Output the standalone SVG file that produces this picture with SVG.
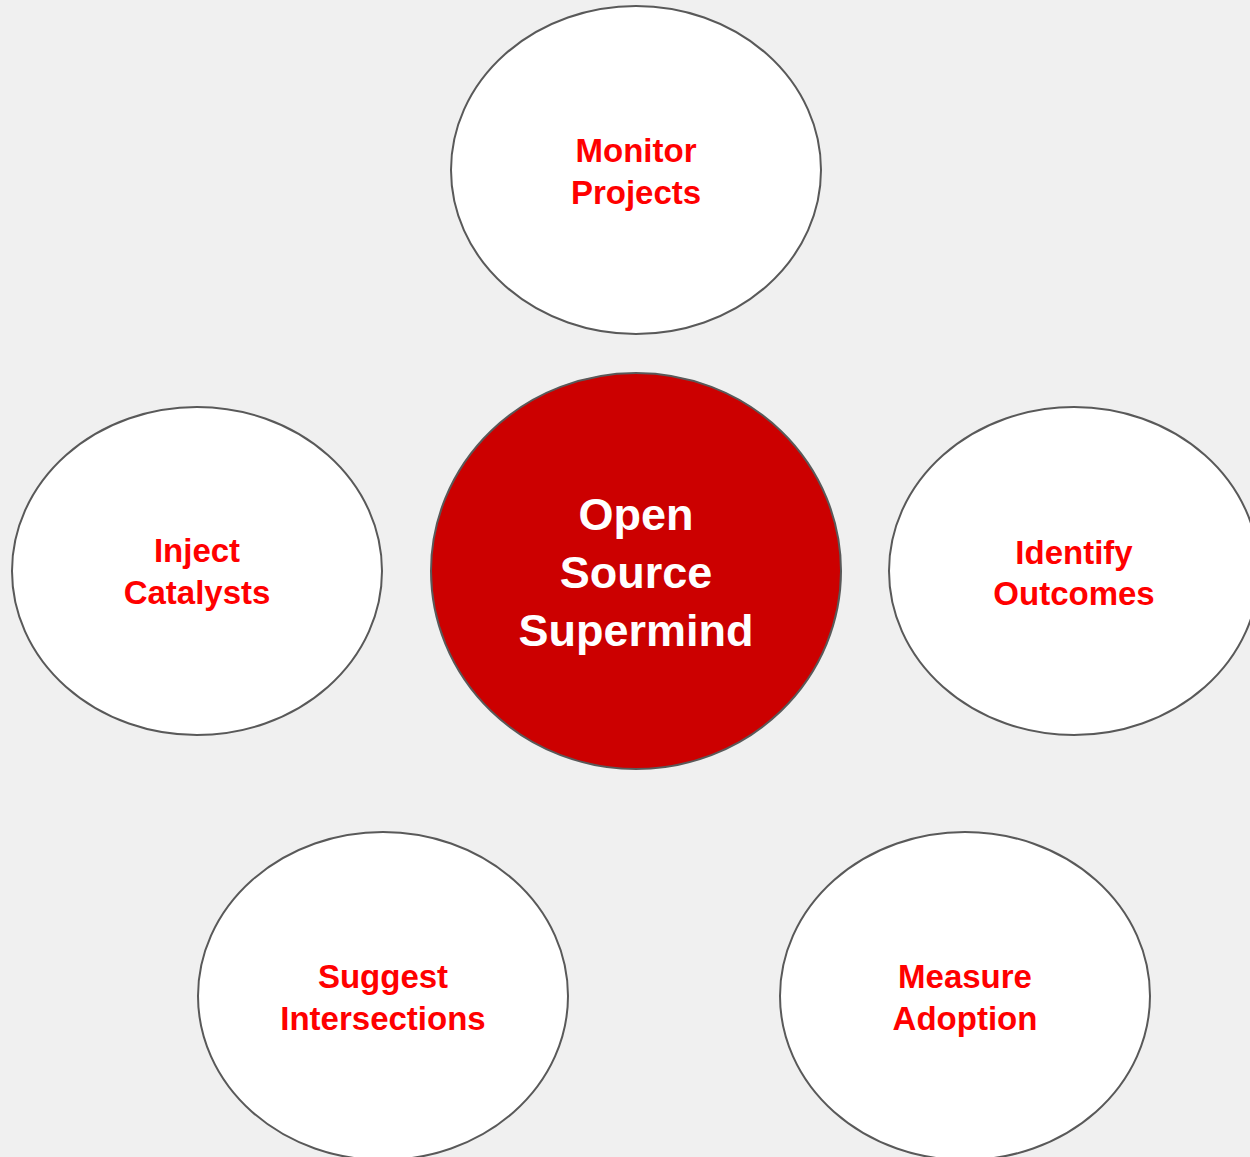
<svg xmlns="http://www.w3.org/2000/svg" width="1250" height="1157" viewBox="0 0 1250 1157">
<style>
.bg{fill:#f0f0f0}
.sat{fill:#ffffff;stroke:#595959;stroke-width:2}
.hub{fill:#cc0000;stroke:#595959;stroke-width:2}
.lbl{font-family:"Liberation Sans",Arial,sans-serif;font-weight:bold;font-size:33px;fill:#ff0000;text-anchor:middle}
.hubl{font-family:"Liberation Sans",Arial,sans-serif;font-weight:bold;font-size:45px;fill:#ffffff;text-anchor:middle}
</style>
<rect class="bg" x="0" y="0" width="1250" height="1157"/>
<g id="connectors"></g>
<g id="monitor">
<ellipse class="sat" cx="636" cy="170" rx="185" ry="164"/>
<text class="lbl" x="636" y="162">Monitor</text>
<text class="lbl" x="636" y="204">Projects</text>
</g>
<g id="inject">
<ellipse class="sat" cx="197" cy="571" rx="185" ry="164"/>
<text class="lbl" x="197" y="562">Inject</text>
<text class="lbl" x="197" y="604">Catalysts</text>
</g>
<g id="identify">
<ellipse class="sat" cx="1074" cy="571" rx="185" ry="164"/>
<text class="lbl" x="1074" y="564">Identify</text>
<text class="lbl" x="1074" y="605">Outcomes</text>
</g>
<g id="suggest">
<ellipse class="sat" cx="383" cy="996" rx="185" ry="164"/>
<text class="lbl" x="383" y="988">Suggest</text>
<text class="lbl" x="383" y="1030">Intersections</text>
</g>
<g id="measure">
<ellipse class="sat" cx="965" cy="996" rx="185" ry="164"/>
<text class="lbl" x="965" y="988">Measure</text>
<text class="lbl" x="965" y="1030">Adoption</text>
</g>
<g id="hub">
<ellipse class="hub" cx="636" cy="571" rx="205" ry="198"/>
<text class="hubl" x="636" y="530">Open</text>
<text class="hubl" x="636" y="588">Source</text>
<text class="hubl" x="636" y="646">Supermind</text>
</g>
</svg>
